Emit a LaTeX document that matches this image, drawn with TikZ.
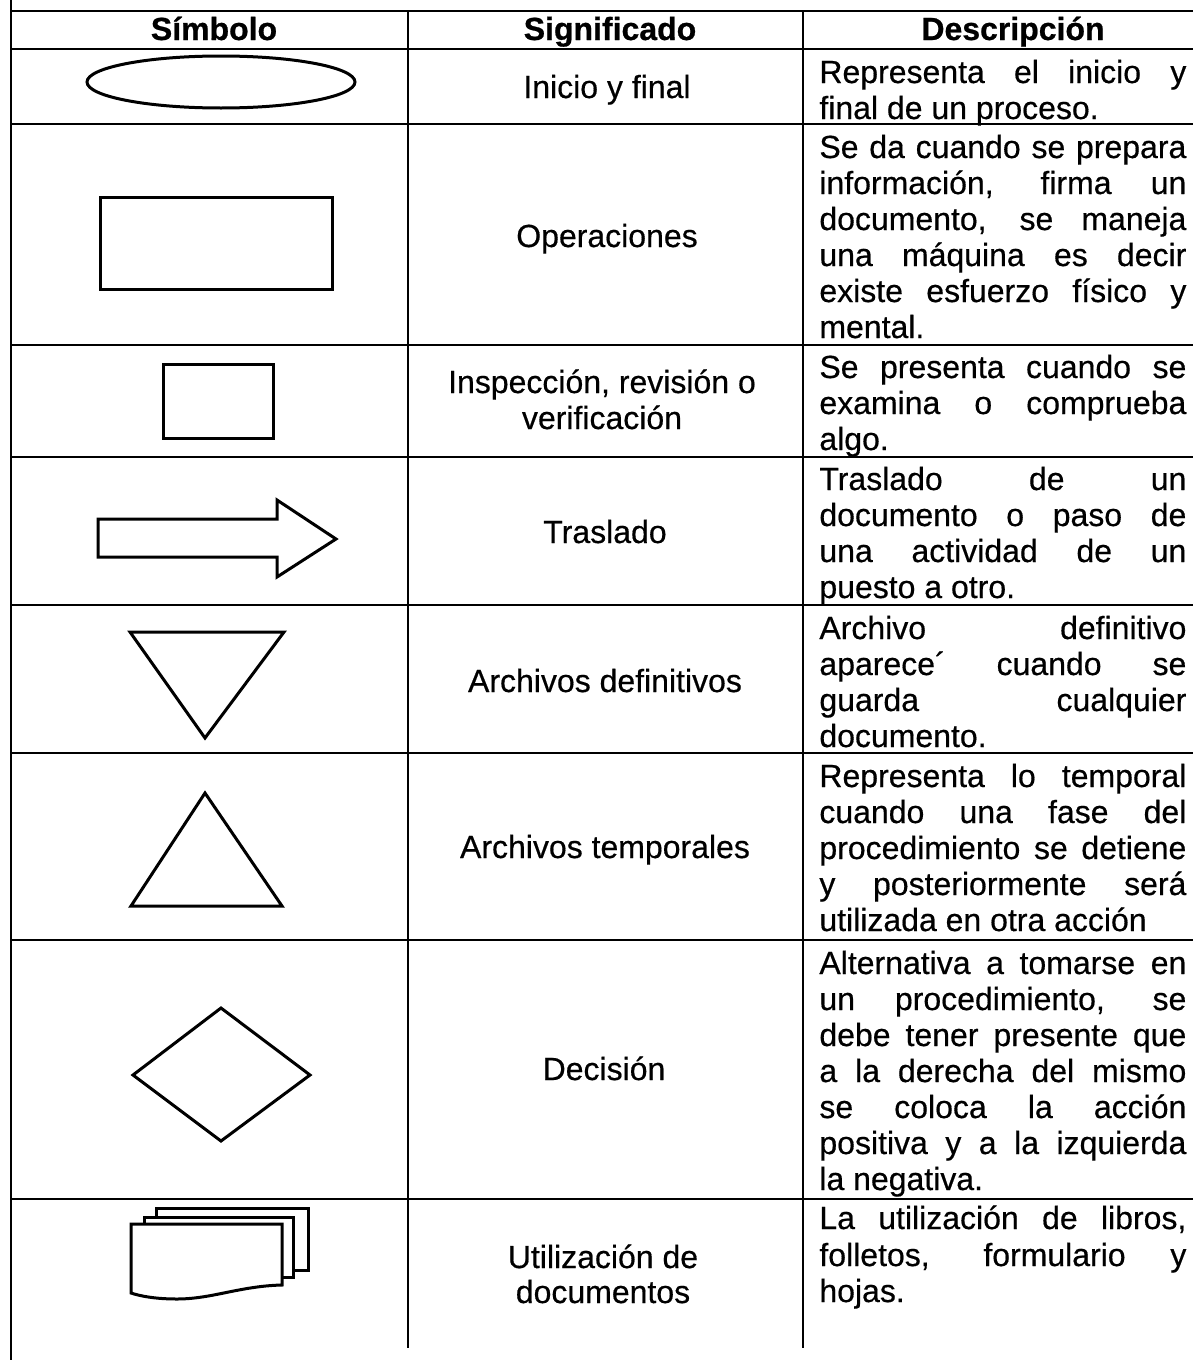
\documentclass[tikz,border=0pt]{standalone}
\usepackage{fontspec}
\setmainfont{Liberation Sans}
\newfontfamily\scanfont{Liberation Sans}[FakeBold=0.5]
\newfontfamily\scanbold{Liberation Sans Bold}[FakeBold=0.7]
\newcommand\jline[1]{\makebox[183.5pt][s]{#1}}
\tikzset{
  tbl/.style={line width=1pt, line cap=rect},
  shp/.style={line width=1.5pt, line join=miter},
  hdr/.style={font=\fontsize{16}{18}\scanbold, inner sep=0pt, anchor=base},
  sig/.style={font=\fontsize{16}{18}\scanfont, inner sep=0pt, anchor=base},
  dsc/.style={font=\fontsize{16}{18}\scanfont, inner sep=0pt, anchor=base west},
}
\begin{document}
\begin{tikzpicture}[x=0.5pt, y=-0.5pt]
\useasboundingbox (0,0) rectangle (1193,1360);
% ---------- table rules ----------
\draw[tbl] (11,0) -- (11,1360);
\foreach \yy in {11,49,124,345,457,605,753,940,1199}
  \draw[tbl] (11,\yy) -- (1193,\yy);
\draw[tbl] (408,11) -- (408,1347);
\draw[tbl] (803,11) -- (803,1347);
% ---------- headers ----------
\node[hdr] (h1) at (214,40) {Símbolo};
\node[hdr] (h2) at (610,40) {Significado};
\node[hdr] (h3) at (1013,40) {Descripción};
% ---------- symbols ----------
\draw[shp] (221,82) ellipse [x radius=134, y radius=26];
\draw[shp] (100,197) rectangle (332,289);
\draw[shp] (163,364) rectangle (273,438);
\draw[shp] (98,519) -- (277,519) -- (277,500) -- (336,539) -- (277,577) -- (277,557) -- (98,557) -- cycle;
\draw[shp] (130,632) -- (284,632) -- (205,738) -- cycle;
\draw[shp] (205,793) -- (282,906) -- (131,906) -- cycle;
\draw[shp] (133,1075) -- (221,1008) -- (310,1075) -- (221,1141) -- cycle;
% documents
\draw[shp] (156,1217) -- (156,1208) -- (308,1208) -- (308,1270) -- (293,1270);
\draw[shp] (144,1224) -- (144,1217) -- (293,1217) -- (293,1277) -- (282,1277);
\draw[shp] (131,1224) -- (282,1224) -- (282,1285)
  .. controls (240,1286) and (212,1299) .. (177,1299)
  .. controls (155,1299) and (140,1296) .. (131,1293) -- cycle;
% ---------- meanings ----------
\node[sig] (s1) at (607,98) {Inicio y final};
\node[sig] (s2) at (607,247) {Operaciones};
\node[sig] (s3a) at (602,393) {Inspección, revisión o};
\node[sig] (s3b) at (602,429) {verificación};
\node[sig] (s4) at (605,543) {Traslado};
\node[sig] (s5) at (605,692) {Archivos definitivos};
\node[sig] (s6) at (605,858) {Archivos temporales};
\node[sig] (s7) at (604,1080) {Decisión};
\node[sig] (s8a) at (603,1268) {Utilización de};
\node[sig] (s8b) at (603,1303) {documentos};
% ---------- descriptions ----------
\node[dsc] (d1a) at (819,83) {\jline{Representa el inicio y}};
\node[dsc] (d1b) at (819,119) {final de un proceso.};
\node[dsc] (d2a) at (819,158) {\jline{Se da cuando se prepara}};
\node[dsc] (d2b) at (819,194) {\jline{información, firma un}};
\node[dsc] (d2c) at (819,230) {\jline{documento, se maneja}};
\node[dsc] (d2d) at (819,266) {\jline{una máquina es decir}};
\node[dsc] (d2e) at (819,302) {\jline{existe esfuerzo físico y}};
\node[dsc] (d2f) at (819,338) {mental.};
\node[dsc] (d3a) at (819,378) {\jline{Se presenta cuando se}};
\node[dsc] (d3b) at (819,414) {\jline{examina o comprueba}};
\node[dsc] (d3c) at (819,450) {algo.};
\node[dsc] (d4a) at (819,490) {\jline{Traslado de un}};
\node[dsc] (d4b) at (819,526) {\jline{documento o paso de}};
\node[dsc] (d4c) at (819,562) {\jline{una actividad de un}};
\node[dsc] (d4d) at (819,598) {puesto a otro.};
\node[dsc] (d5a) at (819,639) {\jline{Archivo definitivo}};
\node[dsc] (d5b) at (819,675) {\jline{aparece´ cuando se}};
\node[dsc] (d5c) at (819,711) {\jline{guarda cualquier}};
\node[dsc] (d5d) at (819,747) {documento.};
\node[dsc] (d6a) at (819,787) {\jline{Representa lo temporal}};
\node[dsc] (d6b) at (819,823) {\jline{cuando una fase del}};
\node[dsc] (d6c) at (819,859) {\jline{procedimiento se detiene}};
\node[dsc] (d6d) at (819,895) {\jline{y posteriormente será}};
\node[dsc] (d6e) at (819,931) {utilizada en otra acción};
\node[dsc] (d7a) at (819,974) {\jline{Alternativa a tomarse en}};
\node[dsc] (d7b) at (819,1010) {\jline{un procedimiento, se}};
\node[dsc] (d7c) at (819,1046) {\jline{debe tener presente que}};
\node[dsc] (d7d) at (819,1082) {\jline{a la derecha del mismo}};
\node[dsc] (d7e) at (819,1118) {\jline{se coloca la acción}};
\node[dsc] (d7f) at (819,1154) {\jline{positiva y a la izquierda}};
\node[dsc] (d7g) at (819,1190) {la negativa.};
\node[dsc] (d8a) at (819,1229) {\jline{La utilización de libros,}};
\node[dsc] (d8b) at (819,1266) {\jline{folletos, formulario y}};
\node[dsc] (d8c) at (819,1302) {hojas.};
\end{tikzpicture}
\end{document}
